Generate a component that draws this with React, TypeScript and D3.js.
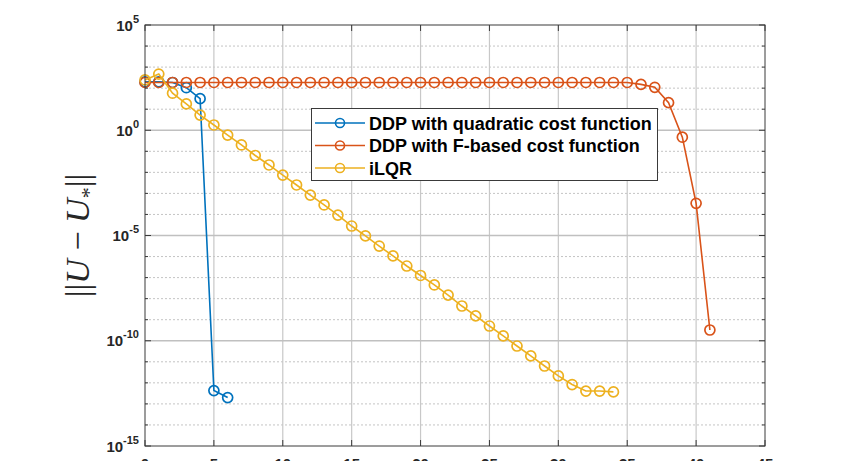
import React from 'react';
import * as d3 from 'd3';

const blueX = [0, 1, 2, 3, 4, 5, 6];
const blueY = [200, 200, 186, 105, 31.6, 4.3e-13, 2.0e-13];

const orangeX = [0, 1, 2, 3, 4, 5, 6, 7, 8, 9, 10, 11, 12, 13, 14, 15, 16, 17, 18, 19, 20,
  21, 22, 23, 24, 25, 26, 27, 28, 29, 30, 31, 32, 33, 34, 35, 36, 37, 38, 39, 40, 41];
const orangeY = [186, 186, 186, 186, 186, 186, 186, 186, 186, 186, 186,
  186, 186, 186, 186, 186, 186, 186, 186, 186, 186,
  186, 186, 186, 186, 186, 186, 186, 186, 186, 186,
  186, 186, 186, 186, 186, 151, 110, 20.4, 0.468, 3.39e-4, 3.24e-10];

const yellowX = [0, 1, 2, 3, 4, 5, 6, 7, 8, 9, 10, 11, 12, 13, 14, 15, 16, 17, 18, 19, 20,
  21, 22, 23, 24, 25, 26, 27, 28, 29, 30, 31, 32, 33, 34];
const yellowY = [245, 468, 57.5, 17.8, 5.25, 1.78, 0.589, 0.2, 0.0631, 0.0224, 7.41e-3,
  2.51e-3, 8.32e-4, 2.82e-4, 9.33e-5, 2.82e-5, 9.55e-6, 3.16e-6, 1.07e-6, 3.55e-7, 1.26e-7,
  4.47e-8, 1.48e-8, 4.47e-9, 1.51e-9, 5.01e-10, 1.7e-10, 5.62e-11, 1.91e-11, 6.31e-12, 2.14e-12,
  8.32e-13, 4.07e-13, 4.07e-13, 3.72e-13];

const xTicks = [0, 5, 10, 15, 20, 25, 30, 35, 40, 45];
const yTicks = [1e5, 1, 1e-5, 1e-10, 1e-15];
const yTickExp = ['5', '0', '-5', '-10', '-15'];
const legendLabels = ['DDP with quadratic cost function', 'DDP with F-based cost function', 'iLQR'];
const colors = ['#0072BD', '#D95319', '#EDB120'];

export default function App() {
  const W = 862, H = 461;
  const L = 145, R = 765, T = 25, B = 446;
  const x = d3.scaleLinear().domain([0, 45]).range([L, R]);
  const y = d3.scaleLog().domain([1e-15, 1e5]).range([B, T]);
  const line = d3.line<[number, number]>().x(d => x(d[0])).y(d => y(d[1]));

  const series = [
    { xs: blueX, ys: blueY },
    { xs: orangeX, ys: orangeY },
    { xs: yellowX, ys: yellowY },
  ];

  const decades = d3.range(-15, 6).filter(e => e % 5 !== 0).map(e => Math.pow(10, e));
  const font = '"Liberation Sans", Arial, Helvetica, sans-serif';
  const axisColor = '#3a3a3a';

  const legX = 311.5, legY = 108.5, legW = 346, legH = 72;
  const rowY = [123, 145.5, 168];

  return (
    <svg width={W} height={H} style={{ position: 'absolute', left: 0, top: 0, background: '#fff' }}>
      <rect x={0} y={0} width={W} height={H} fill="#fff" />
      {/* minor grid */}
      {decades.map((d, i) => (
        <line key={'mg' + i} x1={L} x2={R} y1={y(d)} y2={y(d)} stroke="#c4c4c4" strokeWidth={1} strokeDasharray="2,2" />
      ))}
      {/* major grid */}
      {xTicks.slice(1, -1).map((t, i) => (
        <line key={'gx' + i} x1={x(t)} x2={x(t)} y1={T} y2={B} stroke="#c8c8c8" strokeWidth={1.2} />
      ))}
      {yTicks.slice(1, -1).map((t, i) => (
        <line key={'gy' + i} x1={L} x2={R} y1={y(t)} y2={y(t)} stroke="#c0c0c0" strokeWidth={1.5} />
      ))}
      {/* series */}
      {series.map((s, si) => {
        const pts: [number, number][] = s.xs.map((xv, i) => [xv, s.ys[i]]);
        return (
          <g key={'s' + si}>
            <path d={line(pts) || ''} fill="none" stroke={colors[si]} strokeWidth={1.6} />
            {pts.map((p, i) => (
              <circle key={i} cx={x(p[0])} cy={y(p[1])} r={5} fill="none" stroke={colors[si]} strokeWidth={1.7} />
            ))}
          </g>
        );
      })}
      {/* axes box */}
      <rect x={L} y={T} width={R - L} height={B - T} fill="none" stroke={axisColor} strokeWidth={1} />
      {/* ticks */}
      {xTicks.map((t, i) => (
        <g key={'xt' + i}>
          <line x1={x(t)} x2={x(t)} y1={B} y2={B - 6} stroke={axisColor} />
          <line x1={x(t)} x2={x(t)} y1={T} y2={T + 6} stroke={axisColor} />
          <text x={x(t)} y={469} textAnchor="middle" fontFamily={font} fontWeight="bold" fontSize={15} fill="#262626">{t}</text>
        </g>
      ))}
      {yTicks.map((t, i) => (
        <g key={'yt' + i}>
          <line x1={L} x2={L + 6} y1={y(t)} y2={y(t)} stroke={axisColor} />
          <line x1={R} x2={R - 6} y1={y(t)} y2={y(t)} stroke={axisColor} />
          <text x={139} y={y(t) + 5.5} textAnchor="end" fontFamily={font} fontWeight="bold" fontSize={15} fill="#262626">
            10<tspan dy={-8} fontSize={11}>{yTickExp[i]}</tspan>
          </text>
        </g>
      ))}
      {decades.map((d, i) => (
        <g key={'mt' + i}>
          <line x1={L} x2={L + 3} y1={y(d)} y2={y(d)} stroke={axisColor} />
          <line x1={R} x2={R - 3} y1={y(d)} y2={y(d)} stroke={axisColor} />
        </g>
      ))}
      {/* y label */}
      <text transform={`translate(89,${(T + B) / 2}) rotate(-90)`} textAnchor="middle"
        fontFamily='"Liberation Serif", "DejaVu Serif", serif' fontSize={34} fill="#262626">
        <tspan>||</tspan>
        <tspan fontStyle="italic">U</tspan>
        <tspan> − </tspan>
        <tspan fontStyle="italic">U</tspan>
        <tspan dy={7} fontSize={22}>*</tspan>
        <tspan dy={-7}>||</tspan>
      </text>
      {/* legend */}
      <rect x={legX} y={legY} width={legW} height={legH} fill="#fff" stroke="#3a3a3a" strokeWidth={1} />
      {legendLabels.map((lab, i) => (
        <g key={'lg' + i}>
          <line x1={315} x2={365} y1={rowY[i]} y2={rowY[i]} stroke={colors[i]} strokeWidth={1.6} />
          <circle cx={340} cy={rowY[i]} r={4.5} fill="none" stroke={colors[i]} strokeWidth={1.6} />
          <text x={369} y={rowY[i] + 6.5} fontFamily={font} fontWeight="bold" fontSize={18} fill="#000">{lab}</text>
        </g>
      ))}
    </svg>
  );
}
